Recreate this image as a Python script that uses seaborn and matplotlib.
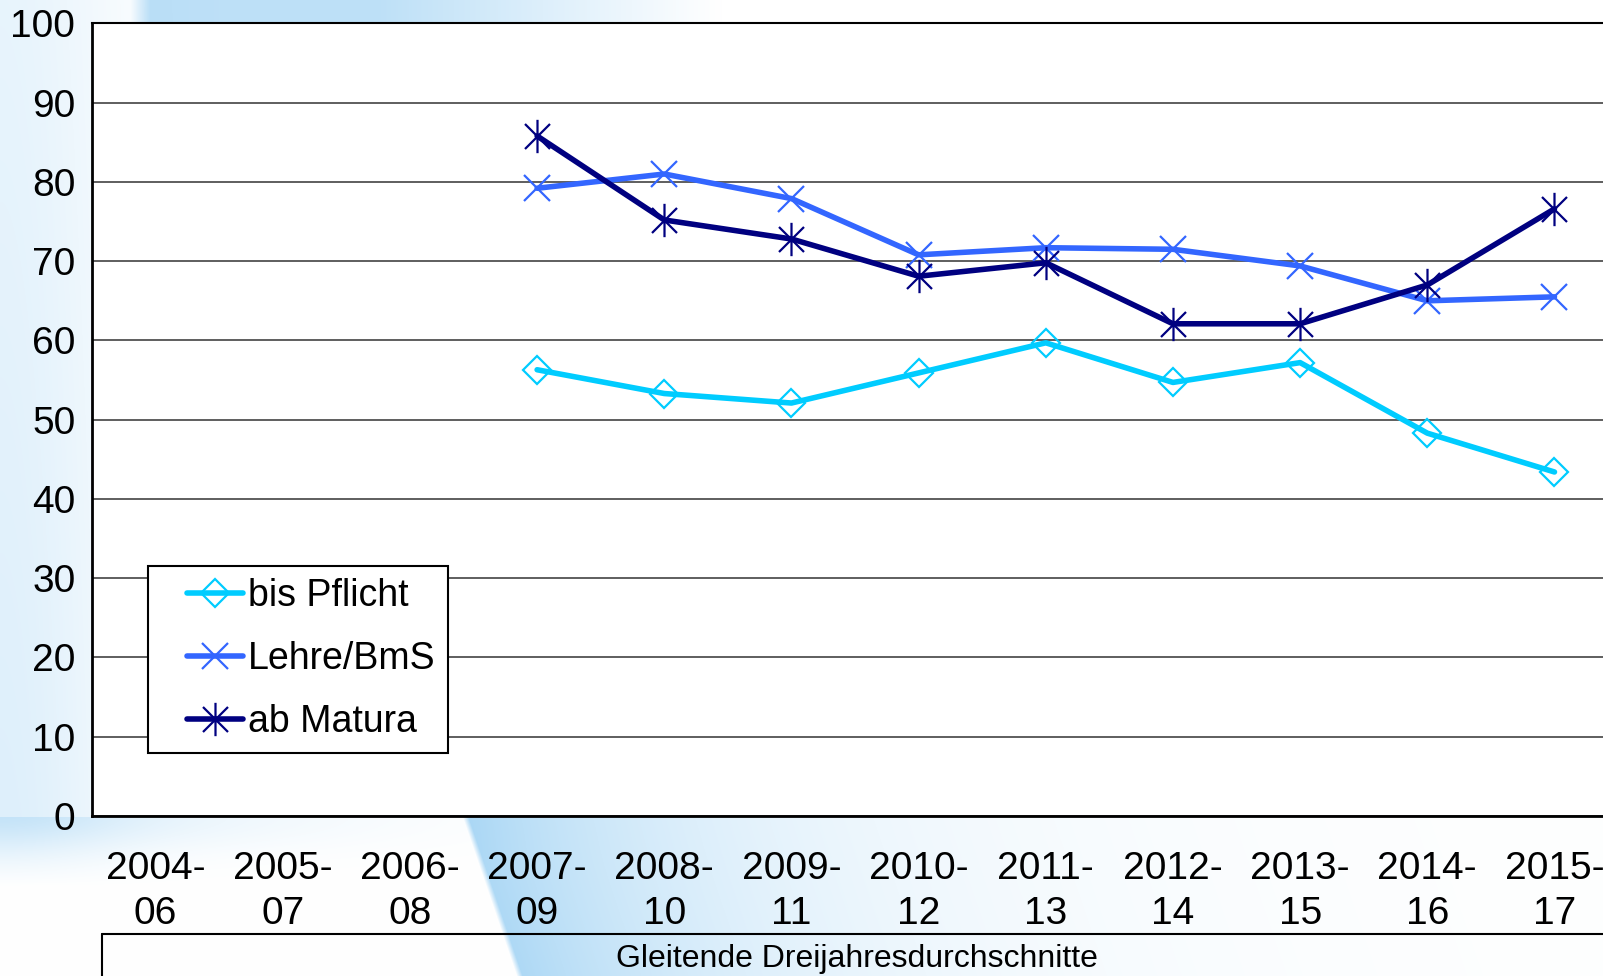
import numpy as np
import pandas as pd
import seaborn as sns
import matplotlib.pyplot as plt
from matplotlib.path import Path
from matplotlib.lines import Line2D
from matplotlib.legend_handler import HandlerLine2D

# categories on the x axis (moving three-year averages)
categories = ["2004-\n06", "2005-\n07", "2006-\n08", "2007-\n09", "2008-\n10", "2009-\n11",
              "2010-\n12", "2011-\n13", "2012-\n14", "2013-\n15", "2014-\n16", "2015-\n17"]

nan = np.nan
bis_pflicht = [nan, nan, nan, 56.3, 53.3, 52.1, 55.9, 59.7, 54.7, 57.2, 48.3, 43.4]
lehre_bms = [nan, nan, nan, 79.2, 81.0, 77.9, 70.8, 71.7, 71.5, 69.4, 65.0, 65.5]
ab_matura = [nan, nan, nan, 85.8, 75.2, 72.8, 68.1, 69.8, 62.1, 62.1, 67.0, 76.6]

series_names = ["bis Pflicht", "Lehre/BmS", "ab Matura"]
series_colors = ["#00CCFF", "#3366FF", "#000080"]
axis_title = "Gleitende Dreijahresdurchschnitte"

sns.set_style("white")
plt.rcParams['font.family'] = ['Liberation Sans', 'DejaVu Sans']
plt.rcParams['text.color'] = 'black'
plt.rcParams['xtick.color'] = 'black'
plt.rcParams['ytick.color'] = 'black'

# asterisk marker like Excel's star (x plus vertical bar)
star = Path([(0, -1), (0, 1), (-0.75, -0.75), (0.75, 0.75), (-0.75, 0.75), (0.75, -0.75)],
            [Path.MOVETO, Path.LINETO] * 3)
markers = ["D", "x", star]
msizes = [14, 19, 24]

fig = plt.figure(figsize=(16.03, 9.76), dpi=100)

# soft blue swoosh in the background
bg = fig.add_axes([0, 0, 1, 1], zorder=-5)
h, w = 976, 1603
yy, xx = np.mgrid[0:h, 0:w].astype(float)
base = np.ones((h, w, 3))
blue = np.array([0.66, 0.84, 0.96])
left = 0.38 * np.exp(-(xx / 120.0) ** 2) * (0.7 + 0.3 * yy / 816) * np.clip(1 - (yy - 816) / 70.0, 0, 1)
under = 0.3 * np.exp(-((yy - 816) / 35.0) ** 2) * np.exp(-(xx / 330.0) ** 2) * (yy > 816)
edge = 462 + 0.34 * (yy - 816)
ramp = np.clip((xx - edge) / 6.0, 0, 1)
swoosh = (yy > 816) * ramp * np.exp(-np.clip(xx - edge, 0, None) / 260.0) * 0.95
top = (yy < 23) * np.clip((xx - 130) / 20.0, 0, 1) * np.clip(1 - (xx - 380) / 340.0, 0, 1) * 0.75
alpha = np.clip(left + under + swoosh + top, 0, 1)[..., None]
bg.imshow(base * (1 - alpha) + blue * alpha, aspect='auto', extent=[0, 1, 0, 1])
bg.axis('off')

ax = fig.add_axes([0.0574, 0.164, 0.952, 0.812])
ax.set_facecolor("white")

xpos = np.arange(len(categories)) + 0.5
for name, vals, col, mk, ms in zip(series_names, [bis_pflicht, lehre_bms, ab_matura],
                                   series_colors, markers, msizes):
    df = pd.DataFrame({"x": xpos, "y": vals}).dropna()
    sns.lineplot(data=df, x="x", y="y", ax=ax, color=col, linewidth=4.0,
                 marker=mk, markersize=ms, markerfacecolor="none",
                 markeredgecolor=col, markeredgewidth=1.6, label=name)

ax.set_xlim(0, len(categories))
ax.set_ylim(0, 100)
ax.set_yticks(np.arange(0, 101, 10))
ax.set_xticks(np.arange(0, len(categories) + 1))
ax.set_xticklabels([])
ax.set_xticks(xpos, minor=True)
ax.set_xticklabels(categories, minor=True, fontsize=28, linespacing=1.33)
ax.tick_params(axis='x', which='major', direction='out', length=9, width=1.5, color='black')
ax.tick_params(axis='x', which='minor', length=0, pad=25)
ax.tick_params(axis='y', direction='out', length=8, width=1.5, labelsize=28, pad=4)
ax.set_xlabel("")
ax.set_ylabel("")
ax.grid(axis='y', color='#333333', linewidth=1.1)
ax.grid(axis='x', visible=False)
for s in ['left', 'bottom']:
    ax.spines[s].set_color('black')
    ax.spines[s].set_linewidth(2)
ax.spines['top'].set_color('black')
ax.spines['top'].set_linewidth(1.5)
ax.spines['right'].set_visible(False)

leg = ax.legend(loc='lower left', bbox_to_anchor=(0.0368, 0.08), borderaxespad=0,
                fontsize=27, frameon=True, fancybox=False, handlelength=2.2,
                handletextpad=0.12, labelspacing=0.72, borderpad=0.33,
                handler_map={Line2D: HandlerLine2D(xpad=0.7)})
leg.get_frame().set_edgecolor('black')
leg.get_frame().set_linewidth(1.5)
leg.get_frame().set_facecolor('white')
leg.get_frame().set_alpha(1)

# multi-level category box below the axis
fig.add_artist(Line2D([102 / w, 1.0], [1 - 934 / h, 1 - 934 / h], color='black', linewidth=1.5))
fig.add_artist(Line2D([102 / w, 102 / w], [0, 1 - 934 / h], color='black', linewidth=1.5))
fig.text(857 / w, 1 - 959 / h, axis_title, ha='center', va='center', fontsize=23)

fig.savefig("out.png", dpi=100)
